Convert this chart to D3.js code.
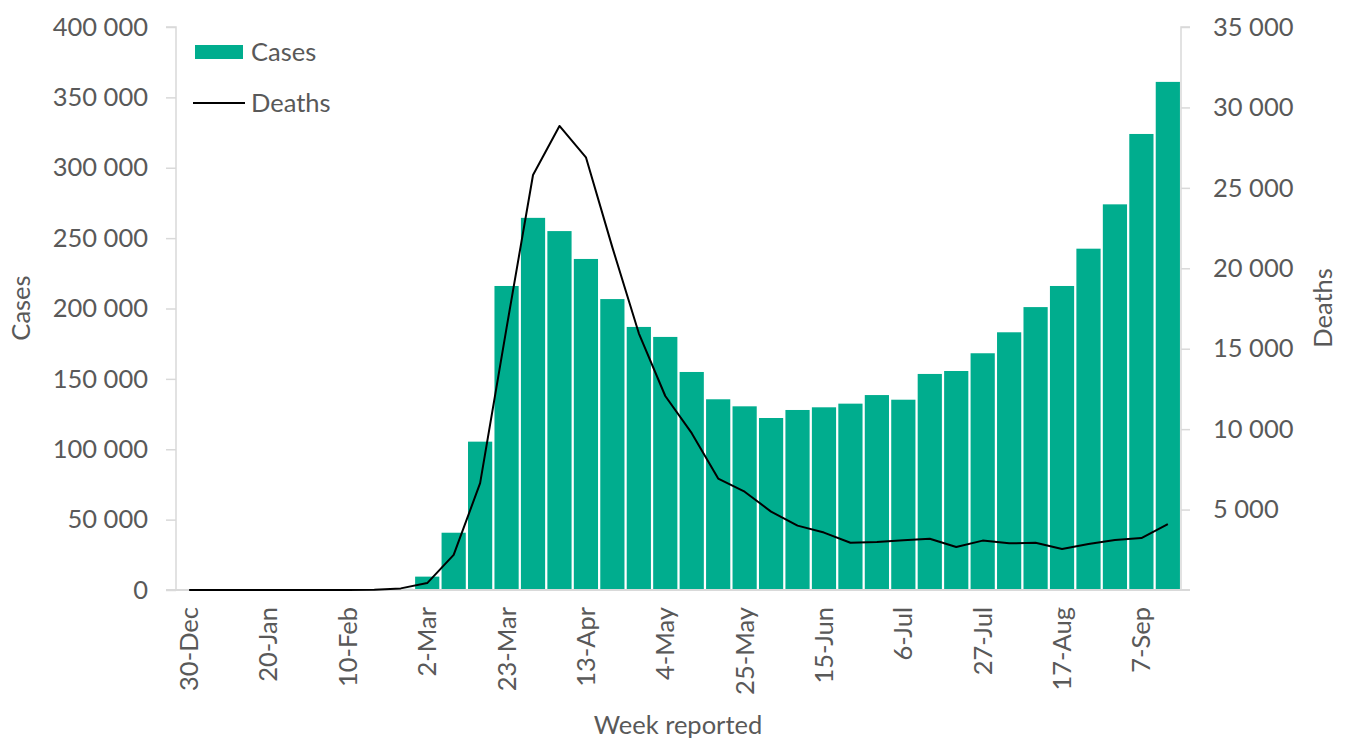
<!DOCTYPE html>
<html>
<head>
<meta charset="utf-8">
<script src="https://cdn.jsdelivr.net/npm/d3@7"></script>
<style>
  html, body { margin: 0; padding: 0; background: #fff; }
  svg { display: block; font-family: Lato, "Open Sans", sans-serif; }
</style>
</head>
<body>
<svg id="chart" width="1345" height="740"></svg>
<script>
const weeks = ["30-Dec","6-Jan","13-Jan","20-Jan","27-Jan","3-Feb","10-Feb","17-Feb","24-Feb","2-Mar","9-Mar","16-Mar","23-Mar","30-Mar","6-Apr","13-Apr","20-Apr","27-Apr","4-May","11-May","18-May","25-May","1-Jun","8-Jun","15-Jun","22-Jun","29-Jun","6-Jul","13-Jul","20-Jul","27-Jul","3-Aug","10-Aug","17-Aug","24-Aug","31-Aug","7-Sep","14-Sep"];
const cases = [0,0,0,0,0,0,0,0,800,9500,40700,105400,216000,264400,255000,235200,206700,186900,179800,154900,135500,130500,122200,127900,129800,132400,138500,135200,153500,155600,168200,183100,201000,216000,242500,274000,324000,361000];
const deaths = [0,0,0,0,0,0,0,20,100,430,2180,6640,16300,25800,28850,26900,21300,15960,12060,9750,6930,6110,4870,4000,3570,2940,2990,3090,3190,2670,3070,2900,2940,2550,2860,3110,3230,4100];
const xTickLabels = ["30-Dec","20-Jan","10-Feb","2-Mar","23-Mar","13-Apr","4-May","25-May","15-Jun","6-Jul","27-Jul","17-Aug","7-Sep"];
const casesTicks = [0,50000,100000,150000,200000,250000,300000,350000,400000];
const deathsTicks = [5000,10000,15000,20000,25000,30000,35000];

(function () {
const svg = d3.select("#chart");
const L = 176, R = 1181, T = 27, B = 590;
const textColor = "#595959", axisColor = "#d9d9d9", green = "#00ad8e";
const fs = 25.5;

const loc = d3.formatLocale({decimal: ".", thousands: " ", grouping: [3], currency: ["", ""]});
const fmt = loc.format(",");

const x = d3.scaleBand().domain(weeks).range([L, R]).paddingInner(0.085).paddingOuter(0.04);
const yL = d3.scaleLinear().domain([0, 400000]).range([B, T]);
const yR = d3.scaleLinear().domain([0, 35000]).range([B, T]);

// bars
svg.append("g").selectAll("rect").data(cases).join("rect")
  .attr("x", (d, i) => x(weeks[i]))
  .attr("width", x.bandwidth())
  .attr("y", d => yL(d))
  .attr("height", d => B - yL(d))
  .attr("fill", green);

// left axis
const gL = svg.append("g").attr("transform", `translate(${L},0)`)
  .call(d3.axisLeft(yL).tickValues(casesTicks).tickFormat(fmt).tickSize(10).tickPadding(18));
gL.select(".domain").attr("stroke", axisColor).attr("stroke-width", 1.5).attr("d", `M-10,${T}H0V${B}H-10`);
gL.selectAll(".tick line").attr("stroke", axisColor).attr("stroke-width", 1.5);
gL.selectAll(".tick text").attr("fill", textColor).attr("font-size", fs).attr("font-family", "Lato");

// right axis
const gR = svg.append("g").attr("transform", `translate(${R},0)`)
  .call(d3.axisRight(yR).tickValues(deathsTicks).tickFormat(fmt).tickSize(9).tickPadding(23));
gR.select(".domain").attr("stroke", axisColor).attr("stroke-width", 1.5).attr("d", `M9,${T}H0V${B}H9`);
gR.selectAll(".tick line").attr("stroke", axisColor).attr("stroke-width", 1.5);
gR.selectAll(".tick text").attr("fill", textColor).attr("font-size", fs).attr("font-family", "Lato");

// x axis
const gX = svg.append("g").attr("transform", `translate(0,${B})`)
  .call(d3.axisBottom(x).tickValues(xTickLabels).tickSize(0).tickPadding(0));
gX.select(".domain").attr("stroke", axisColor).attr("stroke-width", 2).attr("d", `M${L - 10},0H${R + 9}`);
gX.selectAll(".tick text")
  .attr("fill", textColor).attr("font-size", fs).attr("font-family", "Lato")
  .attr("text-anchor", "end")
  .attr("transform", "translate(0,17) rotate(-90)")
  .attr("x", 0).attr("y", 0).attr("dy", "0.35em");

// deaths line
const line = d3.line().x((d, i) => x(weeks[i]) + x.bandwidth() / 2).y(d => yR(d));
svg.append("path").datum(deaths).attr("d", line)
  .attr("fill", "none").attr("stroke", "#000").attr("stroke-width", 2).attr("stroke-linejoin", "round");

// axis titles
svg.append("text").attr("transform", "translate(30,308) rotate(-90)")
  .attr("text-anchor", "middle").attr("fill", textColor).attr("font-size", fs).text("Cases");
svg.append("text").attr("transform", "translate(1332,308) rotate(-90)")
  .attr("text-anchor", "middle").attr("fill", textColor).attr("font-size", fs).text("Deaths");
svg.append("text").attr("x", 678).attr("y", 734)
  .attr("text-anchor", "middle").attr("fill", textColor).attr("font-size", fs).text("Week reported");

// legend
const leg = svg.append("g");
leg.append("rect").attr("x", 195).attr("y", 45).attr("width", 48).attr("height", 14).attr("fill", green);
leg.append("text").attr("x", 251).attr("y", 52).attr("dy", "0.35em").attr("fill", textColor).attr("font-size", fs).text("Cases");
leg.append("line").attr("x1", 193).attr("x2", 245).attr("y1", 103).attr("y2", 103).attr("stroke", "#000").attr("stroke-width", 2);
leg.append("text").attr("x", 251).attr("y", 103).attr("dy", "0.35em").attr("fill", textColor).attr("font-size", fs).text("Deaths");
})();
</script>
</body>
</html>
